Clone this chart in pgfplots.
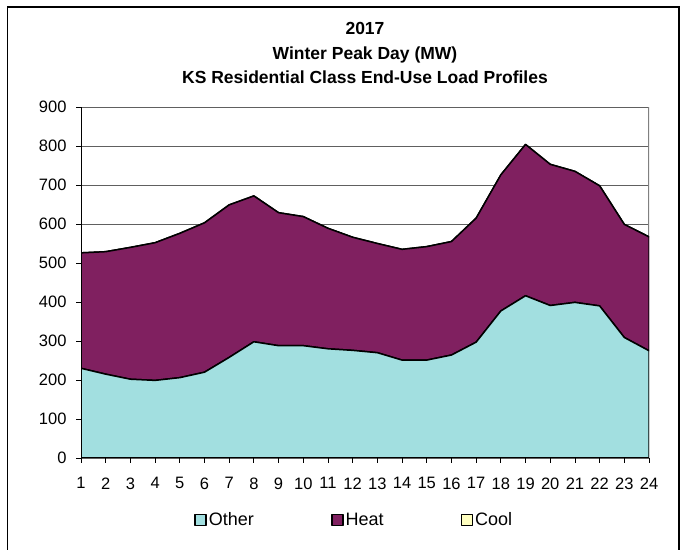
\documentclass[border=0pt]{standalone}
\usepackage{fontspec}
\setmainfont{Liberation Sans}
\usepackage{pgfplots}
\pgfplotsset{compat=1.18}
\definecolor{other}{RGB}{162,223,224}
\definecolor{heat}{RGB}{128,32,96}
\definecolor{cool}{RGB}{255,255,192}
\begin{document}
\begin{tikzpicture}[x=1bp,y=1bp]
\useasboundingbox (0,0) rectangle (690,550);
\draw[line width=1.2bp] (7.5,-5) rectangle (679,543);
\node[align=center, font=\fontsize{17.5bp}{24.5bp}\selectfont\bfseries] at (365,497) {2017\\Winter Peak Day (MW)\\KS Residential Class End-Use Load Profiles};
\begin{axis}[
  at={(81bp,92bp)}, anchor=south west,
  scale only axis, width=568bp, height=351bp,
  xmin=1, xmax=24, ymin=0, ymax=900,
  xtick={1,...,24}, ytick={0,100,...,900},
  axis x line*=bottom, axis y line*=left,
  axis line style={black, line width=1bp, -},
  tick align=outside, major tick length=5bp,
  tick style={black, line width=0.8bp},
  ymajorgrids, grid style={gray!75!black, line width=0.8bp},
  ticklabel style={font=\fontsize{16.5bp}{19bp}\selectfont},
  /pgf/number format/assume math mode=true,
  xticklabel style={yshift=-11bp},
  yticklabel style={xshift=-6bp},
  stack plots=y,
  legend columns=3,
  legend cell align=left,
  legend style={at={(0.481,-0.177)}, anchor=center, draw=none, fill=none,
    font=\fontsize{18bp}{21bp}\selectfont,
    /tikz/every even column/.append style={column sep=75bp}},
  legend image code/.code={\draw[#1, draw=black, line width=1.6bp] (0bp,-5.5bp) rectangle (11bp,5.5bp);},
  every axis plot/.append style={draw=black, line width=1.5bp, line join=round},
]
\addplot[fill=other] coordinates {(1,230) (2,215) (3,202) (4,199) (5,206) (6,220) (7,258) (8,298) (9,288) (10,288) (11,280) (12,276) (13,270) (14,251) (15,251) (16,264) (17,297) (18,377) (19,416) (20,391) (21,399) (22,390) (23,309) (24,275)} \closedcycle;
\addlegendentry{Other}
\addplot[fill=heat] coordinates {(1,296) (2,314) (3,338) (4,353) (5,370) (6,383) (7,391) (8,374) (9,341) (10,331) (11,309) (12,290) (13,280) (14,284) (15,291) (16,291) (17,318) (18,349) (19,388) (20,362) (21,336) (22,308) (23,290) (24,292)} \closedcycle;
\addlegendentry{Heat}
\addplot[fill=cool] coordinates {(1,0) (2,0) (3,0) (4,0) (5,0) (6,0) (7,0) (8,0) (9,0) (10,0) (11,0) (12,0) (13,0) (14,0) (15,0) (16,0) (17,0) (18,0) (19,0) (20,0) (21,0) (22,0) (23,0) (24,0)} \closedcycle;
\addlegendentry{Cool}
\draw[gray, line width=1.2bp] (rel axis cs:1,0) -- (rel axis cs:1,1);
\end{axis}
\end{tikzpicture}
\end{document}
